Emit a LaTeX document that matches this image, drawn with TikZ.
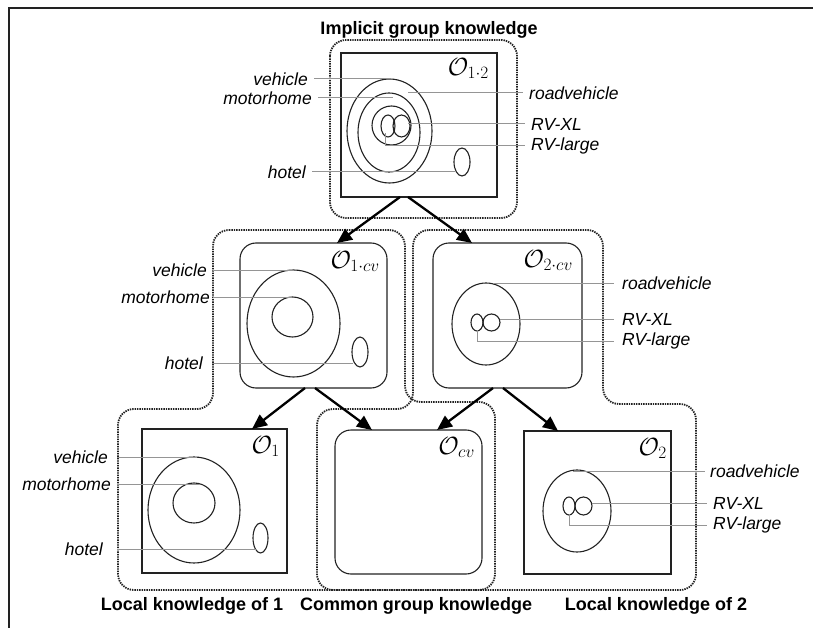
\documentclass[tikz,border=0pt]{standalone}
\usepackage{fontspec}
\setmainfont{Liberation Sans}
\usetikzlibrary{arrows.meta,shapes.geometric}
\definecolor{ink}{HTML}{222222}
\definecolor{leadgray}{HTML}{959595}
\begin{document}
\begin{tikzpicture}[x=1pt,y=-1pt,
  box/.style={draw=ink, line width=1.1pt, inner sep=0pt, outer sep=0pt},
  rbox/.style={box, rounded corners=16pt},
  ell/.style={draw=ink, line width=1.1pt, ellipse, inner sep=0pt, outer sep=0pt},
  leader/.style={draw=leadgray, line width=1pt},
  lab/.style={font=\fontsize{17.5}{20}\selectfont\itshape, inner sep=0pt},
  ttl/.style={font=\fontsize{18}{21}\selectfont\bfseries, inner sep=0pt},
  olab/.style={font=\fontsize{25}{27}\selectfont, inner sep=0pt, anchor=north east},
  region/.style={draw=ink, line width=1.8pt, dash pattern=on 1.4pt off 1pt, rounded corners=16pt},
  arr/.style={draw=black, line width=2.3pt, -{Triangle[length=15pt,width=13pt]}},
]
\useasboundingbox (0,0) rectangle (813,628);
% frame
\draw[ink, line width=2pt] (9,628) -- (9,8) -- (813,8);

% dotted regions
\draw[region] (330,40) rectangle (517,218);
\draw[region] (213,230) -- (405,230) -- (405,402) -- (495,402) -- (495,590) -- (118,590) -- (118,409) -- (213,409) -- cycle;
\draw[region] (413,230) -- (603,230) -- (603,404) -- (696,404) -- (696,590) -- (317,590) -- (317,409) -- (413,409) -- cycle;

% titles
\node[ttl] (tImpl) at (429,30) {Implicit group knowledge};
\node[ttl] (tLoc1) at (192,606) {Local knowledge of 1};
\node[ttl] (tCom) at (416,606) {Common group knowledge};
\node[ttl] (tLoc2) at (656,606) {Local knowledge of 2};

% boxes
\node[box, minimum width=156pt, minimum height=144pt] (b12) at (419,125) {};
\node[rbox, minimum width=147pt, minimum height=145pt] (b1cv) at (313.5,315.5) {};
\node[rbox, minimum width=149pt, minimum height=145pt] (b2cv) at (507.5,315.5) {};
\node[box, minimum width=145pt, minimum height=144pt] (b1) at (214.5,501) {};
\node[rbox, minimum width=147pt, minimum height=144pt] (bcv) at (408.5,502) {};
\node[box, minimum width=147pt, minimum height=143pt] (b2) at (597.5,502.5) {};

\node[olab] (o12) at ([xshift=-8pt,yshift=-5pt]b12.north east) {$\mathcal{O}_{1\cdot 2}$};
\node[olab] (o1cv) at ([xshift=-7pt,yshift=-8pt]b1cv.north east) {$\mathcal{O}_{1\cdot cv}$};
\node[olab] (o2cv) at ([xshift=-9pt,yshift=-7pt]b2cv.north east) {$\mathcal{O}_{2\cdot cv}$};
\node[olab] (o1) at ([xshift=-7pt,yshift=-7pt]b1.north east) {$\mathcal{O}_{1}$};
\node[olab] (ocv) at ([xshift=-7pt,yshift=-7pt]bcv.north east) {$\mathcal{O}_{cv}$};
\node[olab] (o2) at ([xshift=-4pt,yshift=-7pt]b2.north east) {$\mathcal{O}_{2}$};

% ---- O_{1.2} contents
\node[ell, minimum width=85pt, minimum height=104pt] (v12) at (389.5,131) {};
\node[ell, minimum width=62pt, minimum height=79pt] (r12) at (389,132.5) {};
\node[ell, minimum width=39pt, minimum height=39pt] (m12) at (391.5,125.5) {};
\node[ell, minimum width=14pt, minimum height=22pt] (rl12) at (388,126) {};
\node[ell, minimum width=17pt, minimum height=22pt] (rx12) at (401.5,126) {};
\node[ell, minimum width=16pt, minimum height=28pt] (h12) at (462,162) {};
\coordinate (pv12) at (390,79);
\coordinate (pm12) at (393,98);
\coordinate (ph12) at (455,172);
\coordinate (pr12) at (408,93);
\coordinate (px12) at (408,124);
\coordinate (pl12) at (385,133);
\node[lab, anchor=east] (lv12) at (308,79) {vehicle};
\node[lab, anchor=east] (lm12) at (312,98) {motorhome};
\node[lab, anchor=east] (lh12) at (306,172) {hotel};
\node[lab, anchor=west] (lr12) at (529,93) {roadvehicle};
\node[lab, anchor=west] (lx12) at (531,124) {RV-XL};
\node[lab, anchor=west] (ll12) at (531,146) {RV-large};
\draw[leader] ([xshift=6pt]lv12.east) -- (lv12.east -| pv12);
\draw[leader] ([xshift=6pt]lm12.east) -- (lm12.east -| pm12);
\draw[leader] ([xshift=6pt]lh12.east) -- (lh12.east -| ph12);
\draw[leader] (pr12) -- ([xshift=-6pt]lr12.west |- pr12);
\draw[leader] (px12) -- ([xshift=-6pt]lx12.west |- px12);
\draw[leader] (pl12) |- ([xshift=-6pt]ll12.west);

% ---- O_{1.cv} contents
\node[ell, minimum width=93pt, minimum height=107pt] (v1c) at (293.5,323.5) {};
\node[ell, minimum width=41pt, minimum height=40pt] (m1c) at (292.5,317) {};
\node[ell, minimum width=16pt, minimum height=30pt] (h1c) at (360,352) {};
\coordinate (pv1c) at (294,270);
\coordinate (pm1c) at (292,297);
\coordinate (ph1c) at (353,363);
\node[lab, anchor=east] (lv1c) at (207,270) {vehicle};
\node[lab, anchor=east] (lm1c) at (210,297) {motorhome};
\node[lab, anchor=east] (lh1c) at (203,363) {hotel};
\draw[leader] ([xshift=6pt]lv1c.east) -- (lv1c.east -| pv1c);
\draw[leader] ([xshift=3pt]lm1c.east) -- (lm1c.east -| pm1c);
\draw[leader] ([xshift=9pt]lh1c.east) -- (lh1c.east -| ph1c);

% ---- O_{2.cv} contents
\node[ell, minimum width=68pt, minimum height=82pt] (r2c) at (486,324) {};
\node[ell, minimum width=12pt, minimum height=17pt] (rl2c) at (477,322.5) {};
\node[ell, minimum width=17pt, minimum height=17pt] (rx2c) at (491.5,322.5) {};
\coordinate (pr2c) at (493,283);
\coordinate (px2c) at (500,319);
\coordinate (pl2c) at (477,330);
\node[lab, anchor=west] (lr2c) at (622,283) {roadvehicle};
\node[lab, anchor=west] (lx2c) at (622,319) {RV-XL};
\node[lab, anchor=west] (ll2c) at (622,341) {RV-large};
\draw[leader] (pr2c) -- ([xshift=-8pt]lr2c.west |- pr2c);
\draw[leader] (px2c) -- ([xshift=-8pt]lx2c.west |- px2c);
\draw[leader] (pl2c) |- ([xshift=-8pt]ll2c.west);

% ---- O_1 contents
\node[ell, minimum width=92pt, minimum height=106pt] (v1) at (194,510) {};
\node[ell, minimum width=42pt, minimum height=40pt] (m1) at (194,503) {};
\node[ell, minimum width=15pt, minimum height=30pt] (h1) at (260.5,538) {};
\coordinate (pv1) at (197,457);
\coordinate (pm1) at (200,484);
\coordinate (ph1) at (257,549);
\node[lab, anchor=east] (lv1) at (108,457) {vehicle};
\node[lab, anchor=east] (lm1) at (111,484) {motorhome};
\node[lab, anchor=east] (lh1) at (103,549) {hotel};
\draw[leader] ([xshift=9pt]lv1.east) -- (lv1.east -| pv1);
\draw[leader] ([xshift=6pt]lm1.east) -- (lm1.east -| pm1);
\draw[leader] ([xshift=14pt]lh1.east) -- (lh1.east -| ph1);

% ---- O_2 contents
\node[ell, minimum width=68pt, minimum height=82pt] (r2) at (577,511) {};
\node[ell, minimum width=12pt, minimum height=18pt] (rl2) at (569,506) {};
\node[ell, minimum width=17pt, minimum height=18pt] (rx2) at (583.5,506) {};
\coordinate (pr2) at (573,471);
\coordinate (px2) at (592,503);
\coordinate (pl2) at (569,514);
\node[lab, anchor=west] (lr2) at (710,471) {roadvehicle};
\node[lab, anchor=west] (lx2) at (713,503) {RV-XL};
\node[lab, anchor=west] (ll2) at (713,525) {RV-large};
\draw[leader] (pr2) -- ([xshift=-5pt]lr2.west |- pr2);
\draw[leader] (px2) -- ([xshift=-6pt]lx2.west |- px2);
\draw[leader] (pl2) |- ([xshift=-6pt]ll2.west);

% arrows
\draw[arr] ([xshift=-19pt]b12.south) -- ([xshift=23.5pt]b1cv.north);
\draw[arr] ([xshift=-11pt]b12.south) -- ([xshift=-35.5pt]b2cv.north);
\draw[arr] ([xshift=-8.5pt]b1cv.south) -- ([xshift=37.5pt]b1.north);
\draw[arr] ([xshift=1.5pt]b1cv.south) -- ([xshift=-36.5pt]bcv.north);
\draw[arr] ([xshift=-14.5pt]b2cv.south) -- ([xshift=28.5pt]bcv.north);
\draw[arr] ([xshift=-4.5pt]b2cv.south) -- ([xshift=-39.5pt]b2.north);
\end{tikzpicture}
\end{document}
